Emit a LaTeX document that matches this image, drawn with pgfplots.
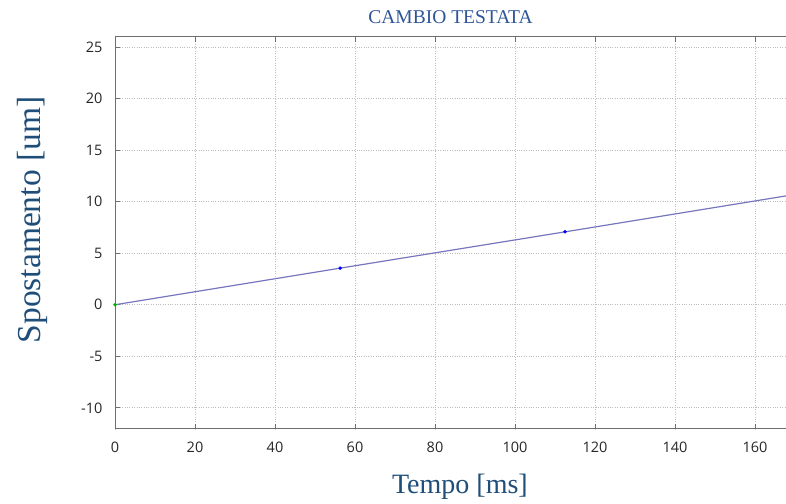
\documentclass[border=0pt]{standalone}
\usepackage{pgfplots}
\pgfplotsset{compat=1.18}
\usepackage{fontspec}
\setmainfont{Liberation Serif}
\newfontfamily\tickfont{Open Sans}
\definecolor{labblue}{HTML}{1F4E79}
\definecolor{titleblue}{HTML}{2E5597}
\definecolor{linecol}{RGB}{118,118,190}
\definecolor{gridcol}{RGB}{190,190,190}
\definecolor{framecol}{RGB}{110,110,110}
\begin{document}
\begin{tikzpicture}[x=1bp,y=1bp]
\path[use as bounding box] (0,0) rectangle (786,504);
\begin{axis}[
  at={(115bp,75bp)}, anchor=south west,
  scale only axis, width=671bp, height=392bp,
  xmin=0, xmax=167.75, ymin=-12.05, ymax=25.97,
  xtick={0,20,...,160}, ytick={-10,-5,...,25},
  xtick pos=both, ytick pos=left, tick align=inside,
  major tick length=5bp,
  tick style={framecol, line width=0.8pt},
  axis line style={draw=none},
  grid=major,
  major grid style={gridcol, dotted, line width=0.9pt},
  /pgf/number format/assume math mode=true,
  ticklabel style={font=\tickfont\fontsize{14.5bp}{16bp}\selectfont, text=black!85},
  xticklabel style={yshift=-9bp},
  yticklabel style={xshift=-9bp},
  title={CAMBIO TESTATA},
  title style={font=\fontsize{19.5bp}{22bp}\selectfont, text=titleblue, at={(rel axis cs:0.5,1.036)}, anchor=center},
  xlabel={Tempo [ms]},
  xlabel style={font=\fontsize{28bp}{32bp}\selectfont, text=labblue, at={(rel axis cs:0.514,-0.148)}, anchor=center},
  ylabel={Spostamento [um]},
  ylabel style={font=\fontsize{33.5bp}{36bp}\selectfont, text=labblue, at={(rel axis cs:-0.1237,0.533)}, anchor=center, rotate=0},
  clip=true,
]
% measured displacement trend
\addplot[linecol, line width=1.2pt] coordinates {(0,0) (56.3,3.55) (112.5,7.07) (168.75,10.62)};
\addplot[only marks, mark=*, mark size=1.6pt, blue] coordinates {(56.3,3.55) (112.5,7.07)};
\addplot[only marks, mark=*, mark size=1.5pt, green!70!black] coordinates {(0,0)};
% frame: left, top and bottom edges
\draw[framecol, line width=1pt] (rel axis cs:1,1) -- (rel axis cs:0,1) -- (rel axis cs:0,0) -- (rel axis cs:1,0);
\end{axis}
\end{tikzpicture}
\end{document}
